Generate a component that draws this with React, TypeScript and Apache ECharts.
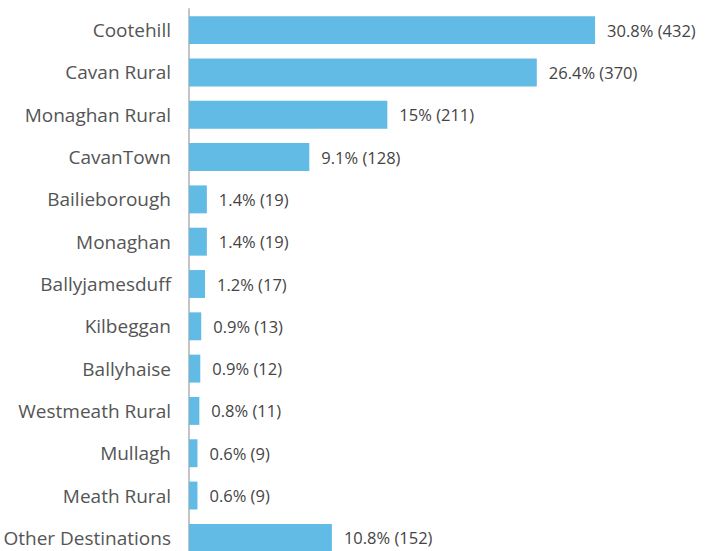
import React, { useEffect, useRef } from "react";
import * as echarts from "echarts";

const categories = [
  "Cootehill",
  "Cavan Rural",
  "Monaghan Rural",
  "CavanTown",
  "Bailieborough",
  "Monaghan",
  "Ballyjamesduff",
  "Kilbeggan",
  "Ballyhaise",
  "Westmeath Rural",
  "Mullagh",
  "Meath Rural",
  "Other Destinations",
];
const counts = [432, 370, 211, 128, 19, 19, 17, 13, 12, 11, 9, 9, 152];
const percents = [30.8, 26.4, 15, 9.1, 1.4, 1.4, 1.2, 0.9, 0.9, 0.8, 0.6, 0.6, 10.8];

export default function App() {
  const ref = useRef<HTMLDivElement>(null);
  useEffect(() => {
    if (!ref.current) return;
    const chart = echarts.init(ref.current, null, { renderer: "svg" });
    const font = "'Open Sans', 'Noto Sans', sans-serif";
    chart.setOption({
      animation: false,
      grid: { left: 189, right: 48, top: 9, bottom: 0, containLabel: false },
      xAxis: {
        type: "value",
        min: 0,
        max: 500,
        show: false,
      },
      yAxis: {
        type: "category",
        inverse: true,
        data: categories,
        axisLine: { show: true, lineStyle: { color: "#c4c4c4", width: 2 } },
        axisTick: { show: false },
        axisLabel: {
          color: "#555555",
          fontSize: 19,
          fontFamily: font,
          margin: 18,
        },
      },
      series: [
        {
          type: "bar",
          data: counts,
          barCategoryGap: "34%",
          itemStyle: { color: "#61bbe5" },
          label: {
            show: true,
            position: "right",
            distance: 12,
            color: "#444444",
            fontSize: 16.5,
            fontFamily: font,
            formatter: (p: any) => `${percents[p.dataIndex]}% (${counts[p.dataIndex]})`,
          },
        },
      ],
    });
    return () => chart.dispose();
  }, []);
  return (
    <div
      style={{
        position: "absolute",
        left: 0,
        top: 0,
        width: 707,
        height: 551,
        overflow: "hidden",
      }}
    >
      <div ref={ref} style={{ width: 707, height: 559 }} />
    </div>
  );
}
